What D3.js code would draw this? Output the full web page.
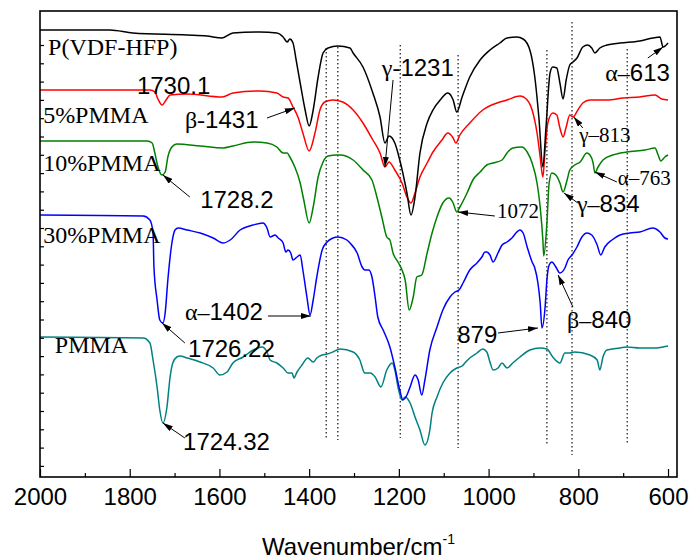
<!DOCTYPE html>
<html>
<head>
<meta charset="utf-8">
<script src="https://cdn.jsdelivr.net/npm/d3@7/dist/d3.min.js"></script>
<style>
  body { margin: 0; background: #fff; }
</style>
</head>
<body>
<div id="wrapper"></div>
<script>
// spectra: [wavenumber (cm-1), transmittance (a.u., offset)]
const pvdfHfp = [[2000,89.4],[1844,89.4],[1793,88.8],[1672,88.4],[1628,88.2],[1594,87.8],[1570,88.8],[1510,89.0],[1472,88.8],[1458,88.0],[1449,87.0],[1443,87.6],[1436,86.8],[1429,83.4],[1420,78.8],[1409,73.4],[1400,70.2],[1391,73.4],[1380,80],[1369,84.8],[1358,85.8],[1336,86.2],[1309,85.8],[1302,84.8],[1280,82],[1258,76.8],[1242,72],[1231,66.8],[1222,68.2],[1209,66.8],[1198,63.4],[1182,56.8],[1173,52.4],[1164,56],[1153,64.8],[1137,70.8],[1124,73.4],[1108,75.4],[1091,76.8],[1079,75.4],[1071,73],[1059,76],[1042,80],[1019,83.4],[997,85.4],[975,86.8],[959,87.8],[937,88],[923,87.6],[908,85.4],[897,80],[888,72],[879,62],[872,70],[863,80.8],[857,82],[848,81.8],[841,78.8],[834,75.6],[827,79.4],[819,82.4],[812,83],[803,83.8],[790,86],[779,86.4],[770,85.8],[763,84.8],[752,85.8],[736,86.4],[707,86.8],[663,87.2],[634,87.8],[618,88],[611,86],[600,86.8]]

const pmma5 = [[2000,77.4],[1755,77.4],[1744,77],[1737,75.6],[1728,74.4],[1719,75.4],[1710,76.4],[1672,76.6],[1594,76],[1570,76.8],[1510,77.2],[1472,76.8],[1458,76],[1447,75.8],[1436,74],[1425,72],[1414,68.8],[1400,65.2],[1387,68.8],[1376,73.4],[1365,75],[1347,75.4],[1325,75],[1302,73.4],[1280,70.8],[1258,67.4],[1242,64.8],[1231,62],[1222,63],[1209,61.4],[1193,58.8],[1182,56],[1173,54.8],[1164,56.8],[1153,60],[1137,62.8],[1124,65],[1104,67.4],[1091,68.8],[1079,67.8],[1073,66.8],[1064,68.4],[1042,70.8],[1013,73.4],[981,74.8],[959,75.4],[930,76.2],[914,75.4],[903,73.4],[892,68.8],[885,64],[879,60],[874,65.4],[868,70.8],[857,72.8],[848,72.4],[841,69.8],[834,68],[827,70],[819,72.4],[812,72],[801,73.4],[790,74.8],[774,75.4],[736,75.4],[700,75.8],[663,76],[629,76.4],[614,75.6],[600,75.4]]

const pmma10 = [[2000,67.2],[1761,67.2],[1750,66.8],[1744,64.8],[1737,62],[1728,60.4],[1721,61],[1715,64],[1706,66],[1695,66.6],[1643,66.2],[1592,65.8],[1570,66.2],[1525,67],[1494,66.8],[1472,66],[1458,64.8],[1449,64.8],[1443,64],[1432,62],[1420,58.8],[1412,55.4],[1400,50.8],[1391,54],[1380,60],[1369,63],[1358,64.2],[1338,64.4],[1331,64.4],[1302,63.4],[1280,61.4],[1260,59.4],[1249,56],[1238,52],[1227,48],[1220,47.4],[1213,44.8],[1202,43],[1193,41.4],[1186,39.4],[1177,33.4],[1168,36],[1160,40],[1149,40.4],[1137,44.8],[1126,48.8],[1115,52],[1102,54.8],[1088,55.8],[1079,54.8],[1071,53],[1064,54],[1048,56.8],[1035,59.4],[1019,61],[1004,62.4],[990,62.8],[970,63.4],[959,64.8],[946,65.8],[926,66],[914,65],[903,62.8],[892,58.8],[885,54],[879,47.4],[877,44.2],[870,50.8],[865,58.8],[859,60.8],[850,60.4],[841,58.8],[834,57],[825,59.4],[819,61.4],[808,62.4],[796,63],[781,64.8],[774,64.4],[767,62.8],[763,60.8],[756,62],[745,63.4],[723,64.4],[692,65],[651,65.4],[629,65.8],[622,64.4],[616,63.2],[607,64],[600,64.4]]

const pmma30 = [[2000,52.4],[1770,52.2],[1755,51.4],[1748,48.8],[1746,42],[1739,35.4],[1733,31.4],[1726,30.8],[1721,32.8],[1715,39.4],[1706,46.8],[1699,49.4],[1692,49.8],[1672,49.4],[1643,48.8],[1614,47.8],[1592,46.8],[1576,47.4],[1554,49.4],[1525,50.4],[1503,50.8],[1494,49.8],[1487,48],[1476,48.4],[1469,47.8],[1458,46.8],[1452,45],[1447,45.4],[1441,44.8],[1436,43.4],[1427,44],[1420,44.4],[1414,41.4],[1405,36],[1398,32.4],[1391,35.4],[1383,40],[1371,45.4],[1360,47],[1347,47.8],[1336,48],[1316,47.4],[1309,46.8],[1293,44.8],[1282,42],[1276,41.4],[1267,41.4],[1260,40],[1253,36],[1247,32],[1235,29.4],[1220,26],[1209,22],[1198,17.4],[1191,15.4],[1182,16.4],[1175,18],[1164,20.4],[1157,19.4],[1149,16.4],[1142,19.4],[1131,25.4],[1115,30],[1102,33.4],[1086,36],[1075,37],[1066,37.4],[1057,38.8],[1042,41.4],[1026,42.8],[1015,44],[1008,45],[1004,45],[997,44.4],[990,43],[979,44.8],[970,46.4],[959,47],[948,47.8],[937,49],[930,49.4],[923,48.8],[914,46],[903,43],[897,41.8],[890,38.8],[885,34.8],[881,29.8],[874,34],[870,39.4],[865,42.4],[859,43],[850,42],[841,40.8],[830,41.8],[823,43.4],[814,44.4],[803,46],[792,48],[781,48.8],[770,48.4],[758,46.4],[750,44.4],[741,46],[725,47.4],[707,48.4],[685,48.8],[663,49],[634,49.8],[618,49],[607,47.8],[600,47.6]]

const pmma = [[2000,28],[1770,27.8],[1755,26.8],[1748,23.4],[1739,18],[1733,13.4],[1726,10.8],[1717,14],[1710,20],[1704,22.8],[1695,24],[1688,24.2],[1672,23.8],[1643,23],[1614,21.8],[1599,20.4],[1583,21],[1570,22.8],[1547,24],[1525,25.4],[1505,26],[1494,25],[1487,23.4],[1472,22.8],[1458,21.8],[1447,20.8],[1438,20.8],[1434,19.8],[1427,21],[1416,22.4],[1403,23.8],[1391,23],[1383,23.8],[1371,24.4],[1360,24.6],[1347,25],[1331,25.6],[1302,25],[1287,23.4],[1276,20.8],[1264,20.8],[1253,20],[1240,18],[1227,21.4],[1215,22.8],[1209,21.4],[1202,18],[1193,15.4],[1186,16],[1175,14.8],[1164,12],[1153,9.4],[1142,6.4],[1131,9.4],[1126,12.8],[1115,16],[1102,18.8],[1086,20.8],[1071,21.8],[1059,22.2],[1053,22.8],[1042,23.8],[1026,24.8],[1013,25.6],[1004,25],[997,23],[990,21.4],[979,21.8],[970,22.8],[959,21.8],[946,22.8],[930,24],[908,25.4],[885,25.8],[870,25.6],[857,24],[841,22.8],[830,24.8],[819,24.8],[808,25],[774,24.4],[758,23.4],[752,21.4],[745,24],[736,25.4],[707,25.8],[692,26],[663,25.8],[625,25.8],[611,26],[600,26.2]]

const seriesNames = ["P(VDF-HFP)", "5%PMMA", "10%PMMA", "30%PMMA", "PMMA"]
const seriesData = [pvdfHfp, pmma5, pmma10, pmma30, pmma]
// where each series name sits: [wavenumber, value]
const seriesLabelAt = [[1982,84.4],[1993,70.8],[1993,61.2],[1993,46.8],[1967,24.8]]

// dotted marker lines: wavenumber, top value, bottom value
const markerWave = [1362, 1336, 1197, 1068, 870, 814, 691]
const markerTop = [85.8, 86, 86.4, 84.4, 85.4, 91, 85.6]
const markerBottom = [7.4, 7.4, 7.8, 5.8, 6.4, 4.4, 6.8]

const xTicks = [2000, 1800, 1600, 1400, 1200, 1000, 800, 600]

// peak labels: text, serif?, label anchor, arrow start, arrow tip  (all in data units)
const peakLabels = [
  {text: "1730.1", serif: false, at: [1784, 76.6]},
  {text: "β-1431", serif: false, at: [1677, 69.8], from: [1494, 71.8], tip: [1432, 73.8]},
  {text: "1728.2", serif: false, at: [1643, 53.8], from: [1666, 56], tip: [1726, 60.4]},
  {text: "γ-1231", serif: false, at: [1238, 80.2], from: [1213, 79.4], tip: [1231, 62]},
  {text: "α–613", serif: false, at: [740, 79.2], from: [645, 83.8], tip: [611, 86]},
  {text: "γ–813", serif: true, at: [798, 67], from: [790, 69.8], tip: [810, 72]},
  {text: "α–763", serif: true, at: [712, 58.4], from: [714, 59], tip: [763, 61]},
  {text: "1072", serif: true, at: [981, 51.8], from: [986, 52.2], tip: [1068, 53]},
  {text: "γ–834", serif: false, at: [803, 53], from: [801, 54.8], tip: [832, 56.8]},
  {text: "α–1402", serif: false, at: [1677, 31.4], from: [1492, 32.2], tip: [1396, 32.2]},
  {text: "1726.22", serif: false, at: [1670, 24], from: [1677, 26.8], tip: [1728, 30.8]},
  {text: "1724.32", serif: false, at: [1681, 5.4], from: [1677, 7.8], tip: [1726, 10.8]},
  {text: "879", serif: false, at: [1070, 26.8], from: [979, 28.8], tip: [890, 29.8]},
  {text: "β–840", serif: false, at: [825, 29.8], from: [812, 34], tip: [845, 40.4]},
]

function drawChart(){
    const colors = ["#000000", "#ff0000", "#008000", "#0000ff", "#008080"]
    const sans = "'Liberation Sans', Arial, sans-serif"
    const serif = "'Liberation Serif', 'Times New Roman', serif"

    let dimensions = {
        width: 690,
        height: 560,
        margin: {top: 11, right: 13, bottom: 83, left: 40},
    }
    dimensions.boundedWidth = dimensions.width - dimensions.margin.left - dimensions.margin.right
    dimensions.boundedHeight = dimensions.height - dimensions.margin.top - dimensions.margin.bottom

    const wrapper = d3.select("#wrapper")
        .append("svg")
        .attr("width", dimensions.width)
        .attr("height", dimensions.height)

    const bounds = wrapper.append("g")
        .attr("transform", `translate(${dimensions.margin.left},${dimensions.margin.top})`)

    const xScale = d3.scaleLinear()
        .domain([2000, 580])
        .range([0, dimensions.boundedWidth])

    const yScale = d3.scaleLinear()
        .domain([0, 93.2])
        .range([dimensions.boundedHeight, 0])

    const xAccessor = d => d[0]
    const yAccessor = d => d[1]

    // dotted lines
    bounds.selectAll(".marker")
        .data(markerWave)
        .join("line")
        .attr("class", "marker")
        .attr("x1", d => xScale(d)).attr("x2", d => xScale(d))
        .attr("y1", (d, i) => yScale(markerTop[i]))
        .attr("y2", (d, i) => yScale(markerBottom[i]))
        .attr("stroke", "#000")
        .attr("stroke-width", 1.1)
        .attr("stroke-dasharray", "1.5,2.5")

    // spectra
    const lineGenerator = d3.line()
        .x(d => xScale(xAccessor(d)))
        .y(d => yScale(yAccessor(d)))
        .curve(d3.curveMonotoneX)

    const order = [4, 3, 2, 1, 0]
    bounds.selectAll(".spectrum")
        .data(order)
        .join("path")
        .attr("class", "spectrum")
        .attr("d", i => lineGenerator(seriesData[i]))
        .attr("fill", "none")
        .attr("stroke", i => colors[i])
        .attr("stroke-width", 1.5)
        .attr("stroke-linejoin", "round")

    // series names
    bounds.selectAll(".series-name")
        .data(seriesNames)
        .join("text")
        .attr("class", "series-name")
        .attr("x", (d, i) => xScale(seriesLabelAt[i][0]))
        .attr("y", (d, i) => yScale(seriesLabelAt[i][1]))
        .style("font-family", serif)
        .style("font-size", "24px")
        .text(d => d)

    // arrow head
    wrapper.append("defs").append("marker")
        .attr("id", "arrow")
        .attr("markerUnits", "userSpaceOnUse")
        .attr("viewBox", "0 0 10 6")
        .attr("refX", 10).attr("refY", 3)
        .attr("markerWidth", 10).attr("markerHeight", 6)
        .attr("orient", "auto")
        .append("path")
        .attr("d", "M0,0L10,3L0,6Z")
        .attr("fill", "#000")

    bounds.selectAll(".peak-arrow")
        .data(peakLabels.filter(d => d.tip))
        .join("line")
        .attr("class", "peak-arrow")
        .attr("x1", d => xScale(d.from[0])).attr("y1", d => yScale(d.from[1]))
        .attr("x2", d => xScale(d.tip[0])).attr("y2", d => yScale(d.tip[1]))
        .attr("stroke", "#000")
        .attr("stroke-width", 1)
        .attr("marker-end", "url(#arrow)")

    const peakText = bounds.selectAll(".peak-label")
        .data(peakLabels)
        .join("text")
        .attr("class", "peak-label")
        .attr("x", d => xScale(d.at[0]))
        .attr("y", d => yScale(d.at[1]))
        .style("font-size", d => d.serif ? "21px" : "24px")
        .style("font-family", d => d.serif ? serif : sans)

    peakText.each(function(d){
        const el = d3.select(this)
        const greek = /^[αβγ]/.test(d.text)
        if (greek && !d.serif) {
            el.append("tspan").style("font-family", serif).text(d.text.slice(0, 2))
            el.append("tspan").text(d.text.slice(2))
        } else {
            el.text(d.text)
        }
    })

    // axes
    const xAxisGenerator = d3.axisBottom(xScale)
        .tickValues(xTicks)
        .tickSize(-8)
        .tickPadding(11)
        .tickFormat(d3.format("d"))

    const xAxis = bounds.append("g")
        .attr("transform", `translate(0,${dimensions.boundedHeight})`)
        .call(xAxisGenerator)
    xAxis.select(".domain").remove()
    xAxis.selectAll("text")
        .style("font-family", sans)
        .style("font-size", "24px")
        .attr("fill", "#000")
    xAxis.selectAll("line").attr("stroke-width", 1.2)

    const minorAxis = d3.axisBottom(xScale)
        .tickValues(d3.range(1900, 580, -200))
        .tickSize(-4)
        .tickFormat("")
    bounds.append("g")
        .attr("transform", `translate(0,${dimensions.boundedHeight})`)
        .call(minorAxis)
        .call(g => g.select(".domain").remove())
        .selectAll("line").attr("stroke-width", 1.2)

    const yAxisGenerator = d3.axisLeft(yScale)
        .tickValues(d3.range(86.4, 0, -3.66))
        .tickSize(-4)
        .tickFormat("")
    bounds.append("g")
        .call(yAxisGenerator)
        .call(g => g.select(".domain").remove())
        .selectAll("line").attr("stroke-width", 1.2)

    // frame
    bounds.append("rect")
        .attr("width", dimensions.boundedWidth)
        .attr("height", dimensions.boundedHeight)
        .attr("fill", "none")
        .attr("stroke", "#000")
        .attr("stroke-width", 1.6)

    // axis title
    const title = wrapper.append("text")
        .attr("x", dimensions.margin.left + dimensions.boundedWidth / 2)
        .attr("y", 555)
        .attr("text-anchor", "middle")
        .style("font-family", sans)
        .style("font-size", "24px")
    title.append("tspan").text("Wavenumber/cm")
    title.append("tspan").attr("dy", -11).style("font-size", "14px").text("-1")
}

drawChart()
</script>
</body>
</html>
